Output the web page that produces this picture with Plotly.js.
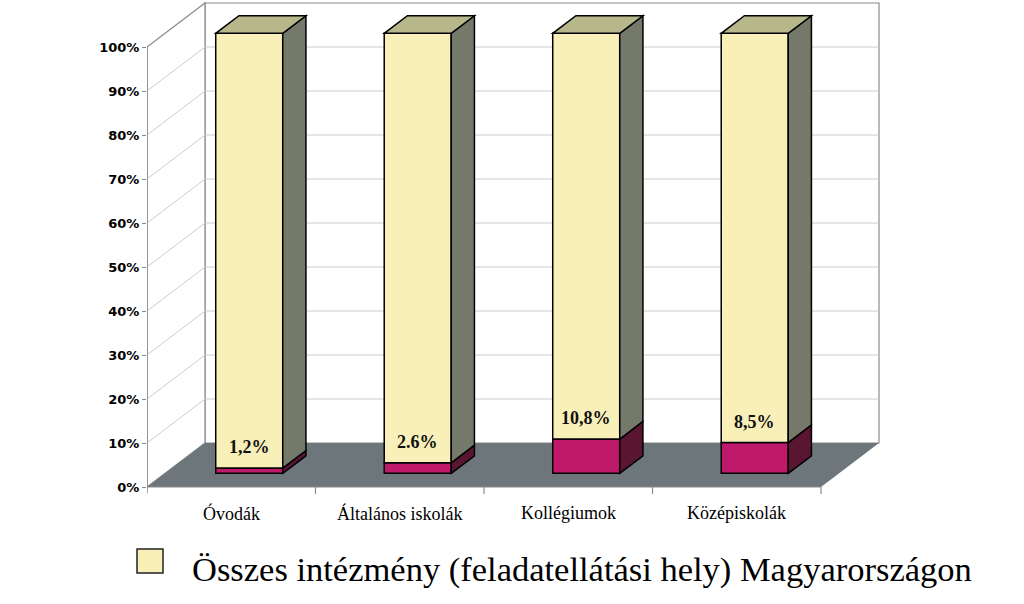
<!DOCTYPE html>
<html><head><meta charset="utf-8">
<script src="https://cdn.plot.ly/plotly-3.0.1.min.js"></script>
<style>body{margin:0;background:#fff}</style>
</head><body><div id="chart" style="width:1024px;height:604px"></div>
<script>
// ---- data ----
const categories = ["Óvodák", "Általános iskolák", "Kollégiumok", "Középiskolák"];
const shareValues = [1.2, 2.4, 7.8, 7.0];
const shareLabels = ["1,2%", "2.6%", "10,8%", "8,5%"];
const totalValue = 100;
const tickValues = [0, 10, 20, 30, 40, 50, 60, 70, 80, 90, 100];
const tickLabels = ["0%", "10%", "20%", "30%", "40%", "50%", "60%", "70%", "80%", "90%", "100%"];
const legendLabel = "Összes intézmény (feladatellátási hely) Magyarországon";

// ---- geometry of the pseudo-3D box ----
const PX_X = 168.5, PX_Y = 4.4;
const DX = 58 / PX_X, DY = 10;      // full floor depth
const F0 = 0.31, FD = 0.4;          // bar front depth fraction, bar depth fraction
const BW = 67 / PX_X;
const bdx = FD * DX, bdy = FD * DY;
const n = categories.length;
const xs = categories.map((c, i) => i + F0 * DX);
const base0 = F0 * DY;
const yellowVals = shareValues.map(v => totalValue - v);

const COL = {
  yFront: '#F9F0B9', yTop: '#B6B88C', ySide: '#75796A',
  mFront: '#C0186A', mSide: '#5A1530', floor: '#6D767A',
  wall: '#8A8A8A', grid: '#CCCCCC'
};

const traces = [
  { type: 'bar', x: xs, y: shareValues, base: shareValues.map(() => base0), width: BW,
    marker: { color: COL.mFront, line: { color: '#000', width: 1.5 } }, showlegend: false, hoverinfo: 'skip' },
  { type: 'bar', x: xs, y: yellowVals, base: shareValues.map(v => base0 + v), width: BW,
    marker: { color: COL.yFront, line: { color: '#000', width: 1.5 } }, showlegend: false, hoverinfo: 'skip' }
];

const shapes = [];
const L = -0.5, R = n - 0.5;
// back wall
shapes.push({ type: 'rect', xref: 'x', yref: 'y', layer: 'below', x0: L + DX, x1: R + DX, y0: DY, y1: totalValue + DY,
  fillcolor: '#fff', line: { color: COL.wall, width: 1.2 } });
// left wall
shapes.push({ type: 'path', xref: 'x', yref: 'y', layer: 'below',
  path: `M${L},0 L${L},${totalValue} L${L + DX},${totalValue + DY} L${L + DX},${DY} Z`,
  fillcolor: '#fff', line: { color: COL.wall, width: 1.2 } });
// gridlines
tickValues.forEach(t => {
  if (t === 0 || t === totalValue) return;
  shapes.push({ type: 'line', xref: 'x', yref: 'y', layer: 'below', x0: L, y0: t, x1: L + DX, y1: t + DY, line: { color: COL.grid, width: 1 } });
  shapes.push({ type: 'line', xref: 'x', yref: 'y', layer: 'below', x0: L + DX, y0: t + DY, x1: R + DX, y1: t + DY, line: { color: COL.grid, width: 1 } });
});
// floor
shapes.push({ type: 'path', xref: 'x', yref: 'y', layer: 'below',
  path: `M${L},0 L${R},0 L${R + DX},${DY} L${L + DX},${DY} Z`, fillcolor: COL.floor, line: { width: 0 } });
// front axis line and category ticks
shapes.push({ type: 'line', xref: 'x', yref: 'y', layer: 'below', x0: L, y0: -1.4, x1: L, y1: totalValue, line: { color: COL.wall, width: 1.5 } });
shapes.push({ type: 'line', xref: 'x', yref: 'y', layer: 'below', x0: L, y0: 0, x1: R, y1: 0, line: { color: COL.wall, width: 1 } });
for (let k = 1; k <= n; k++) {
  shapes.push({ type: 'line', xref: 'x', yref: 'y', layer: 'below', x0: L + k, y0: 0, x1: L + k, y1: -1.6, line: { color: COL.wall, width: 1.2 } });
}
// bar side & top faces
xs.forEach((x, i) => {
  const xr = x + BW / 2, xl = x - BW / 2;
  const segs = [[base0, base0 + shareValues[i], COL.mSide], [base0 + shareValues[i], base0 + totalValue, COL.ySide]];
  segs.forEach(([yb, yt, c]) => {
    shapes.push({ type: 'path', xref: 'x', yref: 'y', layer: 'above',
      path: `M${xr},${yb} L${xr + bdx},${yb + bdy} L${xr + bdx},${yt + bdy} L${xr},${yt} Z`,
      fillcolor: c, line: { color: '#000', width: 1.5 } });
  });
  const top = base0 + totalValue;
  shapes.push({ type: 'path', xref: 'x', yref: 'y', layer: 'above',
    path: `M${xl},${top} L${xr},${top} L${xr + bdx},${top + bdy} L${xl + bdx},${top + bdy} Z`,
    fillcolor: COL.yTop, line: { color: '#000', width: 1.5 } });
});
// legend swatch (paper coords)
shapes.push({ type: 'rect', xref: 'paper', yref: 'paper', x0: (137 - 147) / 877, x1: (163 - 147) / 877, y0: (604 - 573) / 604, y1: (604 - 549) / 604,
  fillcolor: COL.yFront, line: { color: '#222', width: 1.5 } });

const serif = 'Liberation Serif';
const annotations = [];
xs.forEach((x, i) => {
  annotations.push({ x: x, y: base0 + shareValues[i] + 4.7, xref: 'x', yref: 'y', text: '<b>' + shareLabels[i] + '</b>', showarrow: false,
    font: { family: serif, size: 18, color: '#111' }, xanchor: 'center', yanchor: 'middle' });
});
categories.forEach((c, i) => {
  annotations.push({ x: i, y: -(513 - 487) / PX_Y, xref: 'x', yref: 'y', text: c, showarrow: false,
    font: { family: serif, size: 18, color: '#000' }, xanchor: 'center', yanchor: 'middle' });
});
annotations.push({ x: (190 - 147) / 877, y: (604 - 569) / 604, xref: 'paper', yref: 'paper', text: legendLabel, showarrow: false,
  font: { family: serif, size: 34.5, color: '#000' }, xanchor: 'left', yanchor: 'middle' });

const layout = {
  width: 1024, height: 604,
  margin: { l: 147, r: 0, t: 0, b: 0, pad: 0 },
  paper_bgcolor: '#fff', plot_bgcolor: '#fff',
  barmode: 'overlay', showlegend: false,
  xaxis: { range: [L, L + 877 / PX_X], visible: false, fixedrange: true },
  yaxis: { range: [-(604 - 487) / PX_Y, 487 / PX_Y], tickvals: tickValues, ticktext: tickLabels.map(t => '<b>' + t + '</b>'),
    showgrid: false, zeroline: false, showline: false, ticks: 'outside', ticklen: 4, tickcolor: COL.wall,
    tickfont: { family: 'DejaVu Sans', size: 13, color: '#000' },
    automargin: false, fixedrange: true },
  shapes: shapes, annotations: annotations
};
Plotly.newPlot('chart', traces, layout, { staticPlot: true, displayModeBar: false });
</script></body></html>
